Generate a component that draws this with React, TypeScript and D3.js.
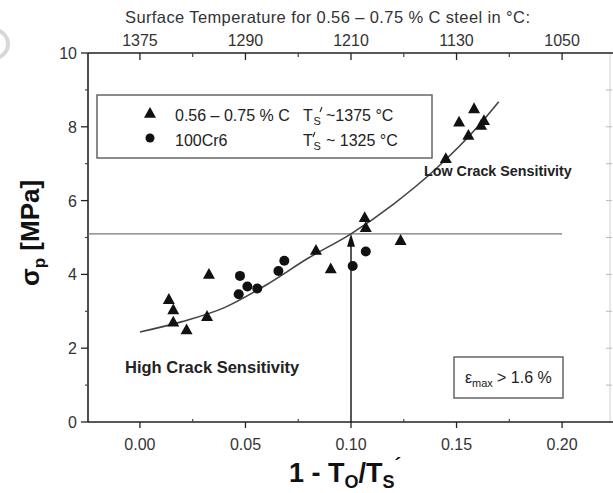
import React from "react";
import * as d3 from "d3";

const xTicks = [0.0, 0.05, 0.1, 0.15, 0.2];
const xMinorTicks = [0.025, 0.075, 0.125, 0.175];
const topTickLabels = ["1375", "1290", "1210", "1130", "1050"];
const yTicks = [0, 2, 4, 6, 8, 10];
const yMinorTicks = [1, 3, 5, 7, 9];

const triX = [0.0137, 0.0158, 0.0158, 0.0221, 0.0327, 0.0318, 0.0834, 0.0904, 0.1065, 0.107, 0.1235, 0.1449, 0.1512, 0.1556, 0.1583, 0.1616, 0.163];
const triY = [3.33, 3.05, 2.72, 2.51, 4.01, 2.87, 4.66, 4.16, 5.55, 5.28, 4.93, 7.15, 8.14, 7.78, 8.5, 8.05, 8.18];

const cirX = [0.0474, 0.0468, 0.0509, 0.0556, 0.0656, 0.0684, 0.1008, 0.107];
const cirY = [3.96, 3.46, 3.67, 3.62, 4.09, 4.37, 4.23, 4.62];

const fitX = [0, 0.02, 0.04, 0.06, 0.08, 0.1, 0.12, 0.14, 0.16, 0.17];
const fitY = [2.44, 2.72, 3.1, 3.72, 4.45, 5.1, 5.9, 6.85, 8.0, 8.68];

const thresholdY = 5.1;
const thresholdXEnd = 0.2;
const arrowX = 0.1;

const W = 613;
const H = 493;
const FONT = "'Liberation Sans', Arial, sans-serif";
const TICK_FS = 16;

export default function App() {
  const x = d3.scaleLinear().domain([-0.0246, 0.2227]).range([88, 610]);
  const y = d3.scaleLinear().domain([0, 10]).range([422, 53]);

  const line = d3
    .line<number>()
    .x((_, i) => x(fitX[i]))
    .y((d) => y(d))
    .curve(d3.curveMonotoneX);

  const triPath = (cx: number, cy: number) => {
    const s = 6;
    return `M${cx},${cy - s} L${cx + s},${cy + s * 0.8} L${cx - s},${cy + s * 0.8} Z`;
  };

  const ax = x(arrowX);
  const aTop = y(thresholdY);

  const prime = (px: number, py: number, k = 1) => (
    <path d={`M${px + 2 * k},${py - 4 * k} L${px},${py + 1 * k}`} stroke="#222" strokeWidth={1.1 * k} fill="none" />
  );

  return (
    <svg
      width={W}
      height={H}
      style={{ position: "absolute", left: 0, top: 0, background: "#fff" }}
      fontFamily={FONT}
    >
      <rect x={0} y={0} width={W} height={H} fill="#fff" />
      <circle cx={-6} cy={44} r={14} fill="none" stroke="#d8d8d8" strokeWidth={4} />

      {/* top title */}
      <text x={125} y={23} fontSize={16.5} fill="#333" textLength={405} lengthAdjust="spacing">
        Surface Temperature for 0.56 – 0.75 % C steel in °C:
      </text>
      {xTicks.map((t, i) => (
        <text key={"tt" + i} x={x(t)} y={46} fontSize={TICK_FS} fill="#333" textAnchor="middle">
          {topTickLabels[i]}
        </text>
      ))}

      {/* right axis (faint) */}
      <line x1={x.range()[1]} x2={x.range()[1]} y1={y(10)} y2={y(0)} stroke="#d0d0d0" strokeWidth={1} />
      {d3.range(1, 10).map((t) => (
        <line key={"rt" + t} x1={x.range()[1] - 4} x2={x.range()[1] + 2} y1={y(t)} y2={y(t)} stroke="#bbb" strokeWidth={1} />
      ))}

      {/* axes */}
      <line x1={88} x2={613} y1={y(10)} y2={y(10)} stroke="#222" strokeWidth={1.6} />
      <line x1={88} x2={613} y1={y(0)} y2={y(0)} stroke="#222" strokeWidth={1.6} />
      <line x1={88} x2={88} y1={y(10)} y2={y(0)} stroke="#222" strokeWidth={1.6} />

      {/* y ticks */}
      {yTicks.map((t) => (
        <g key={"yt" + t}>
          <line x1={81} x2={88} y1={y(t)} y2={y(t)} stroke="#222" strokeWidth={1.3} />
          <text x={77} y={y(t) + 6} fontSize={TICK_FS} fill="#333" textAnchor="end">
            {t}
          </text>
        </g>
      ))}
      {yMinorTicks.map((t) => (
        <line key={"ym" + t} x1={85} x2={88} y1={y(t)} y2={y(t)} stroke="#444" strokeWidth={1.2} />
      ))}

      {/* bottom/top ticks */}
      {xTicks.map((t) => (
        <g key={"xt" + t}>
          <line x1={x(t)} x2={x(t)} y1={y(0)} y2={y(0) + 6} stroke="#222" strokeWidth={1.3} />
          <text x={x(t)} y={y(0) + 28} fontSize={TICK_FS} fill="#333" textAnchor="middle">
            {t.toFixed(2)}
          </text>
          <line x1={x(t)} x2={x(t)} y1={y(10)} y2={y(10) + 7} stroke="#222" strokeWidth={1.3} />
        </g>
      ))}
      {xMinorTicks.map((t) => (
        <g key={"xm" + t}>
          <line x1={x(t)} x2={x(t)} y1={y(0) - 3} y2={y(0)} stroke="#444" strokeWidth={1.2} />
          <line x1={x(t)} x2={x(t)} y1={y(10)} y2={y(10) + 4} stroke="#444" strokeWidth={1.2} />
        </g>
      ))}

      {/* threshold line */}
      <line x1={88} x2={x(thresholdXEnd)} y1={y(thresholdY)} y2={y(thresholdY)} stroke="#777" strokeWidth={1.3} />

      {/* arrow */}
      <line x1={ax} x2={ax} y1={y(0)} y2={aTop + 8} stroke="#111" strokeWidth={1.4} />
      <path d={`M${ax},${aTop} L${ax + 4},${aTop + 13} L${ax - 4},${aTop + 13} Z`} fill="#111" />

      {/* fit curve */}
      <path d={line(fitY) || ""} fill="none" stroke="#444" strokeWidth={1.6} />

      {/* data */}
      {triX.map((v, i) => (
        <path key={"tr" + i} d={triPath(x(v), y(triY[i]))} fill="#111" />
      ))}
      {cirX.map((v, i) => (
        <circle key={"ci" + i} cx={x(v)} cy={y(cirY[i])} r={5} fill="#111" />
      ))}

      {/* legend */}
      <rect x={97} y={95} width={335} height={63} fill="#fff" stroke="#666" strokeWidth={1.5} />
      <path d={triPath(150, 113)} fill="#111" />
      <circle cx={150} cy={138} r={4.5} fill="#111" />
      <text x={175} y={121} fontSize={16} fill="#222">0.56 – 0.75 % C</text>
      <text x={175} y={146} fontSize={16} fill="#222">100Cr6</text>

      <text x={303} y={121} fontSize={16} fill="#222">T</text>
      <text x={313.5} y={125} fontSize={11} fill="#222">S</text>
      {prime(320, 111)}
      <text x={326} y={121} fontSize={16} fill="#222">~1375 °C</text>

      <text x={303} y={146} fontSize={16} fill="#222">T</text>
      {prime(313, 136)}
      <text x={313.5} y={150} fontSize={11} fill="#222">S</text>
      <text x={326} y={146} fontSize={16} fill="#222">~ 1325 °C</text>

      {/* annotations */}
      <text x={424} y={176} fontSize={14.3} fontWeight="bold" fill="#222">Low Crack Sensitivity</text>
      <text x={125} y={373} fontSize={16.5} fontWeight="bold" fill="#222">High Crack Sensitivity</text>

      <rect x={454} y={357} width={109} height={41} fill="#fff" stroke="#666" strokeWidth={1.5} />
      <text x={465} y={383} fontSize={16} fill="#222">ε</text>
      <text x={472} y={387} fontSize={11} fill="#222">max</text>
      <text x={497} y={383} fontSize={16} fill="#222">&gt; 1.6 %</text>

      {/* axis titles */}
      <text x={345} y={482} fontSize={27} fontWeight="bold" fill="#111" textAnchor="middle">
        1 - T<tspan fontSize={18} dy={6}>O</tspan>
        <tspan fontSize={27} dy={-6}>/T</tspan>
        <tspan fontSize={18} dy={6}>S</tspan>
        <tspan fontSize={20} dy={-16}>´</tspan>
      </text>
      <text transform="translate(39,233) rotate(-90)" fontSize={26} fontWeight="bold" fill="#111" textAnchor="middle">
        σ<tspan fontSize={17} dy={6}>p</tspan>
        <tspan fontSize={26} dy={-6}> [MPa]</tspan>
      </text>
    </svg>
  );
}
